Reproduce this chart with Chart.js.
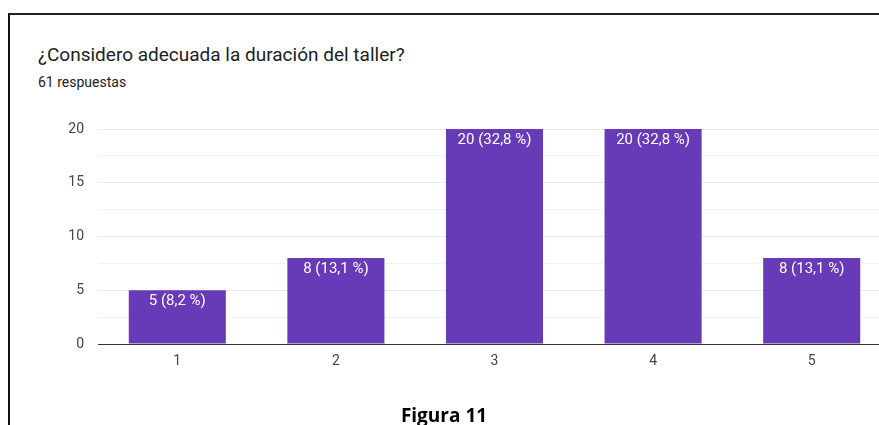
<!DOCTYPE html>
<html>
<head>
<meta charset="utf-8">
<script src="https://cdn.jsdelivr.net/npm/chart.js@4/dist/chart.umd.min.js"></script>
<style>
  html, body { margin: 0; padding: 0; background: #fff; overflow: hidden; width: 879px; height: 425px; }
  #frame { position: absolute; left: 8px; top: 13px; width: 900px; height: 430px; border-left: 2px solid #111; border-top: 2px solid #222; }
  #title { position: absolute; left: 38px; top: 43px; font-family: Roboto, sans-serif; font-size: 19px; color: #202124; white-space: nowrap; }
  #subtitle { position: absolute; left: 38px; top: 74px; font-family: Roboto, sans-serif; font-size: 14px; color: #202124; }
  #wrap { position: absolute; left: 0; top: 0; width: 891px; height: 425px; }
  #figura { position: absolute; left: 0; width: 888px; top: 402px; text-align: center; font-family: "Open Sans", sans-serif; font-weight: bold; font-size: 19px; color: #000; }
</style>
</head>
<body>
<div id="frame"></div>
<div id="title">¿Considero adecuada la duración del taller?</div>
<div id="subtitle">61 respuestas</div>
<div id="wrap"><canvas id="bar_chart"></canvas></div>
<div id="figura">Figura 11</div>
<script>
var categories = ['1', '2', '3', '4', '5'];
var counts = [5, 8, 20, 20, 8];
var percents = ['8,2', '13,1', '32,8', '32,8', '13,1'];

// labels inside the top of each bar
var barLabels = {
    id: 'barLabels',
    afterDatasetsDraw: function(chart) {
        var ctx = chart.ctx;
        var meta = chart.getDatasetMeta(0);
        ctx.save();
        ctx.font = '15px Roboto, sans-serif';
        ctx.fillStyle = '#ffffff';
        ctx.textAlign = 'center';
        ctx.textBaseline = 'middle';
        meta.data.forEach(function(bar, i) {
            ctx.fillText(counts[i] + ' (' + percents[i] + ' %)', bar.x, bar.y + 11);
        });
        ctx.restore();
    }
};

var ctx = document.getElementById('bar_chart').getContext('2d');
var barChart = new Chart(ctx, {
    type: 'bar',
    data: {
        labels: categories,
        datasets: [{
            label: 'Respuestas',
            backgroundColor: '#673ab7',
            borderWidth: 0,
            barPercentage: 0.612,
            categoryPercentage: 1,
            data: counts
        }]
    },
    options: {
        responsive: true,
        maintainAspectRatio: false,
        animation: false,
        layout: { padding: { left: 0, right: 0, top: 129, bottom: 51 } },
        plugins: {
            legend: { display: false },
            tooltip: { enabled: false }
        },
        scales: {
            x: {
                grid: { display: false, drawTicks: false },
                border: { display: true, color: '#333333', width: 1 },
                ticks: {
                    color: '#444444',
                    font: { family: 'Roboto', size: 14 },
                    padding: 9
                },
                afterFit: function(scale) { scale.height = 30; }
            },
            y: {
                min: 0,
                max: 20,
                border: { display: false },
                grid: {
                    drawTicks: false,
                    color: function(c) {
                        if (c.tick.value === 0) return 'rgba(0,0,0,0)';
                        return c.tick.value % 5 === 0 ? '#e8e8e8' : '#f3f3f3';
                    }
                },
                ticks: {
                    stepSize: 2.5,
                    color: '#444444',
                    font: { family: 'Roboto', size: 14 },
                    padding: 14,
                    callback: function(v) { return v % 5 === 0 ? v : ''; }
                },
                afterFit: function(scale) { scale.width = 98; }
            }
        }
    },
    plugins: [barLabels]
});
</script>
</body>
</html>
